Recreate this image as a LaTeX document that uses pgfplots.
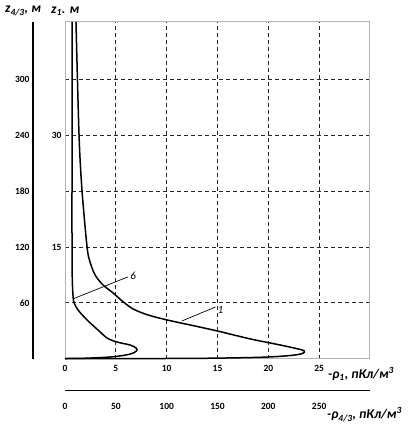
\documentclass[border=0pt]{standalone}
\usepackage{pgfplots}
\pgfplotsset{compat=1.18}
\usepackage{fontspec}
\setmainfont{Carlito}

\begin{document}
\begin{tikzpicture}[x=1pt,y=1pt]
\path[use as bounding box] (0,0) rectangle (416,424);

% main plot
\begin{axis}[
  at={(65pt,65.3pt)}, anchor=south west,
  scale only axis, width=305pt, height=336.7pt,
  xmin=0, xmax=30, ymin=0, ymax=361.6,
  axis line style={gray!60, line width=1pt},
  xtick={5,10,...,25}, extra x ticks={0}, extra x tick style={grid=none},
  ytick={60,120,...,300}, yticklabels={,15,,30,},
  grid=major,
  major grid style={black!85, dash pattern=on 4pt off 3pt, line width=0.7pt},
  major tick length=0pt,
  tick label style={font=\fontsize{9.5}{11}\selectfont\bfseries},
  /pgf/number format/assume math mode=true,
  xticklabel style={yshift=-3pt},
  clip=false,
]
% curve 1
\addplot[black, line width=1.5pt, smooth, tension=0.5] coordinates {
  (1.08,361.6) (1.38,240.3) (1.67,181.2) (2.17,120) (2.46,103.9) (2.96,89.9)
  (3.74,79.2) (4.73,70.6) (5.62,62) (6.7,53.4) (8.18,46.9) (10.05,41.6)
  (12.32,36.2) (14.98,29.8) (18.23,21.2) (21.18,14.7) (22.96,10.4)
  (23.55,8.3) (23.35,5.6) (22.17,3.4) (19.2,1.5) (13.3,0.4) (5.4,0.1) (0,0)
};
% curve 6
\addplot[black, line width=1.5pt, smooth, tension=0.5] coordinates {
  (0.69,361.6) (0.69,240) (0.69,120) (0.72,84) (0.8,66) (0.9,60)
  (1.28,52.3) (2.17,41.6) (3.25,30.8) (4.14,22.2) (5.12,17.9) (6.4,14.7)
  (7.0,11.5) (7.05,8.5) (6.6,5.6) (5.8,3.6) (4.4,1.8) (2,0.5) (0,0.2)
};
% annotations
\draw[black, line width=0.7pt] (axis cs:0.79,64.3) -- (axis cs:6.2,87.9);
\node[anchor=west, inner sep=1pt, font=\fontsize{11}{12}\selectfont\itshape] at (axis cs:6.3,89) {6};
\draw[black, line width=0.7pt] (axis cs:11.5,40.5) -- (axis cs:14.8,55.5);
\node[anchor=west, inner sep=1pt, font=\fontsize{11}{12}\selectfont\itshape] at (axis cs:14.9,52.5) {1};
\end{axis}

% z_{4/3} axis
\begin{axis}[
  at={(33pt,65.3pt)}, anchor=south west,
  scale only axis, width=1pt, height=336.7pt,
  xmin=0, xmax=1, ymin=0, ymax=361.6,
  axis y line=left, hide x axis,
  y axis line style={black, line width=1.2pt, -},
  ytick={60,120,...,300},
  major tick length=0pt,
  tick label style={font=\fontsize{9.5}{11}\selectfont\bfseries},
  /pgf/number format/assume math mode=true,
]
\end{axis}

% rho_{4/3} axis
\begin{axis}[
  at={(65pt,33.3pt)}, anchor=south west,
  scale only axis, width=305pt, height=1pt,
  xmin=0, xmax=300, ymin=0, ymax=1,
  axis x line=bottom, hide y axis,
  x axis line style={black, line width=1pt, -},
  xtick={0,50,...,250},
  major tick length=0pt,
  tick label style={font=\fontsize{9.5}{11}\selectfont\bfseries},
  xticklabel style={yshift=-9.5pt},
  /pgf/number format/assume math mode=true,
]
\end{axis}

\node[anchor=west, inner sep=0pt, font=\fontsize{13.5}{15}\selectfont\bfseries\itshape] at (328,50) {-ρ\textsubscript{1}, пКл/м\textsuperscript{3}};
\node[anchor=west, inner sep=0pt, font=\fontsize{13.5}{15}\selectfont\bfseries\itshape] at (327,9.5) {-ρ\textsubscript{4/3}, пКл/м\textsuperscript{3}};
\node[anchor=west, inner sep=0pt, font=\fontsize{13.5}{15}\selectfont\bfseries\itshape] at (5,413) {z\textsubscript{4/3}, м};
\node[anchor=west, inner sep=0pt, font=\fontsize{13.5}{15}\selectfont\bfseries\itshape] at (51,413) {z\textsubscript{1}. м};
\end{tikzpicture}
\end{document}
